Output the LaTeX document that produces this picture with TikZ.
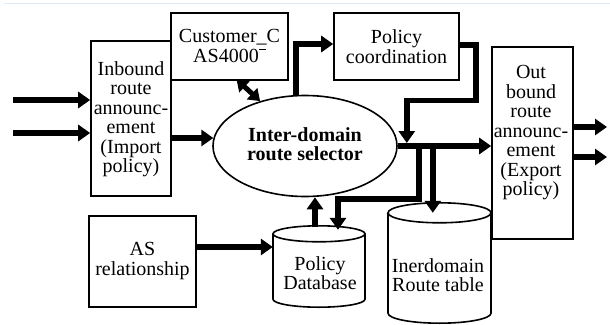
\documentclass[tikz,border=0pt]{standalone}
\usepackage{fontspec}
\setmainfont{Liberation Serif}
\usetikzlibrary{arrows.meta,shapes.geometric,calc}
\begin{document}
\begin{tikzpicture}[x=1pt,y=-1pt,
  txt/.style={font=\fontsize{20}{19.5}\selectfont, align=center, inner sep=0pt},
  box/.style={draw, line width=1.6pt, inner sep=0pt},
  ghost/.style={inner sep=0pt},
  outline/.style={line width=1.6pt},
  tip/.style={Triangle[length=12pt,width=16pt]},
  flow/.style={line width=5.5pt, line join=miter, -{Triangle[length=12pt,width=16pt]}},
  both/.style={line width=5pt, {Triangle[length=11pt,width=15pt]}-{Triangle[length=11pt,width=15pt]}},
  plain/.style={line width=5.5pt, line join=miter},
]
\useasboundingbox (0,0) rectangle (610,324);
% faint rule along the top edge
\draw[color={rgb,255:red,222;green,236;blue,244}, line width=0.8pt] (4,3) -- (610,3);

% boxes
\node[box, minimum width=80pt, minimum height=155pt] (inb) at (131,118.5) {};
\node[box, minimum width=117pt, minimum height=67pt] (cust) at (229.5,46.5) {};
\node[box, minimum width=125pt, minimum height=67pt] (pc) at (396.5,46.5) {};
\node[box, minimum width=81pt, minimum height=192pt] (out) at (532.5,143) {};
\node[box, minimum width=107pt, minimum height=91pt] (as) at (142.5,261.5) {};
\node[draw, ellipse, line width=1.6pt, minimum width=184pt, minimum height=101pt, inner sep=0pt] (sel) at (305,146) {};

% cylinder footprints
\node[ghost, minimum width=92pt, minimum height=81pt] (db) at (319,266.5) {};
\node[ghost, minimum width=103pt, minimum height=120pt] (rt) at (439.5,263) {};

% policy database cylinder
\draw[outline] ($(db.north)+(0,8)$) ellipse [x radius=46, y radius=8];
\draw[outline] ($(db.north)+(-46,8)$) -- ($(db.south)+(-46,-8)$)
  arc[start angle=180, end angle=0, x radius=46, y radius=8]
  -- ($(db.north)+(46,8)$);
% route table cylinder
\draw[outline] ($(rt.north)+(0,10)$) ellipse [x radius=51.5, y radius=10];
\draw[outline] ($(rt.north)+(-51.5,10)$) -- ($(rt.south)+(-51.5,-10)$)
  arc[start angle=180, end angle=0, x radius=51.5, y radius=10]
  -- ($(rt.north)+(51.5,10)$);

% texts
\node[txt] at (131,119) {Inbound\\route\\announc-\\ement\\(Import\\policy)};
\node[txt] at (229.5,46) {Customer\_C\\AS4000\raisebox{0.62em}{\rule{7pt}{0.9pt}}};
\node[txt] at (396.5,46.5) {Policy\\coordination};
\node[txt] at (531,133) {Out\\bound\\route\\announc-\\ement\\(Export\\policy)};
\node[txt] at (142.5,261) {AS\\relationship};
\node[txt, font=\fontsize{20}{19.5}\selectfont\bfseries] at (305,144) {Inter-domain\\route selector};
\node[txt] at (320,273) {Policy\\Database};
\node[txt] at (438,275) {Inerdomain\\Route table};

% free ends and junctions
\coordinate (src1) at (13,100);
\coordinate (src2) at (13,133);
\coordinate (dst1) at (607,127);
\coordinate (dst2) at (607,157);
\coordinate (jn) at ($(sel.east)+(9,0)$);
\coordinate (b1) at ($(sel.east)+(21,0)$);
\coordinate (b2) at ($(sel.east)+(35,0)$);
\coordinate (aa) at ($(as.east)+(0,-14.5)$);

% connectors
\draw[flow] (src1) -- (inb.west |- src1);
\draw[flow] (src2) -- (inb.west |- src2);
\draw[flow] (inb.east |- sel.175) -- (sel.175);
\draw[both] ($(cust.south)+(7,-1.5)$) -- (sel.135);
\draw[flow] ($(sel.north)+(-9,1)$) |- ($(pc.west)+(0,-2.5)$);
\draw[flow] ($(pc.east)+(-1,-1.5)$) -| ($(pc.east)+(16,54)$) -| ($(jn)+(0,-3)$);
\draw[flow] (sel.east) -- (out.west |- sel.east);
\draw[flow] (out.east |- dst1) -- (dst1);
\draw[flow] (out.east |- dst2) -- (dst2);
\draw[flow] (b1) |- ($(db.north)+(19,-27)$) -- ($(db.north)+(19,4)$);
\draw[flow] (b2) -- ($(b2 |- rt.north)+(0,10)$);
\draw[flow] ($(db.north)+(-4,1)$) -- ($(sel.south)+(10,0)$);
\draw[flow] (aa) -- (aa -| db.west);
\end{tikzpicture}
\end{document}
